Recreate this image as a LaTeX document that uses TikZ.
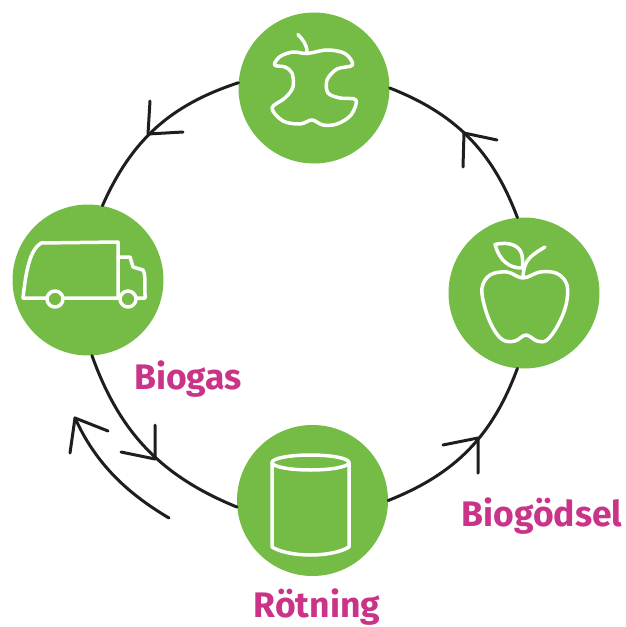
\documentclass[tikz,border=0pt]{standalone}
\usepackage{fontspec}
\setmainfont{Fira Sans}
\definecolor{leaf}{HTML}{74BC45}
\definecolor{plum}{HTML}{C93388}
\definecolor{ink}{HTML}{1E1E1E}
\tikzset{
  disc/.style={circle,fill=leaf,minimum size=151pt,inner sep=0pt},
  flow/.style={draw=ink,line width=3pt,line cap=round,line join=round},
  icon/.style={draw=white,line width=3.5pt,line cap=round,line join=round},
  tag/.style={text=plum,font=\fontsize{35.5}{36}\selectfont\bfseries,anchor=base,inner sep=0pt}
}
\begin{document}
\begin{tikzpicture}[x=1pt,y=-1pt]
\useasboundingbox (0,0) rectangle (626,627);
\node[disc] (top) at (314,88) {};
\node[disc] (right) at (524,293) {};
\node[disc] (bottom) at (312.5,500.5) {};
\node[disc] (left) at (88,280) {};
% connectors
\draw[flow] (right.95) to[bend right=24] (top.0);
\draw[flow] (top.176) to[bend right=24] (left.79);
\draw[flow] (left.273) to[bend right=24] (bottom.185);
\draw[flow] (bottom.0) to[bend right=24] (right.265);
% arrowheads on the ring
\coordinate (t1) at (464,133); \coordinate (t1a) at (463,167); \coordinate (t1b) at (497,140);
\coordinate (t2) at (148,134); \coordinate (t2a) at (150,101); \coordinate (t2b) at (183,132);
\coordinate (t3) at (155,459); \coordinate (t3a) at (155,425); \coordinate (t3b) at (121,452);
\coordinate (t4) at (478,438); \coordinate (t4a) at (443,445); \coordinate (t4b) at (478,473);
\draw[flow] (t1a) -- (t1) -- (t1b);
\draw[flow] (t2a) -- (t2) -- (t2b);
\draw[flow] (t3a) -- (t3) -- (t3b);
\draw[flow] (t4a) -- (t4) -- (t4b);
% return arrow
\coordinate (r0) at (169,518); \coordinate (r1) at (75,418);
\coordinate (r1a) at (70,453); \coordinate (r1b) at (108,431);
\draw[flow] (r0) .. controls (125,492) and (95,462) .. (r1);
\draw[flow] (r1a) -- (r1) -- (r1b);
% apple core
\draw[icon] plot[smooth cycle,tension=0.55] coordinates {(307,53.5)(327,50)(345,53.5)(352.5,65)(337,69)(327,80)(328,93)(340,98)(356,100)(351,115)(337,124)(323,125)(312,120)(300,124)(283,121)(272,108)(285,98)(293,87)(292,73)(285,67)(274.5,65)(280,56.5)(293,52)};
\draw[icon] (307,52) .. controls (307,44) and (302,39) .. (298,34.5);
% apple
\draw[icon] plot[smooth cycle,tension=0.6] coordinates {(523,278)(540,272)(557,273.5)(567,285)(566,305)(558,325)(547,340)(537,341)(526,335)(515,341)(503,340)(493,328)(485,308)(482,288)(490,275)(507,272)};
\draw[icon] (523,277) .. controls (524,260) and (530,256) .. (545,247);
\draw[icon] (495,244.5) .. controls (510,241) and (520,246) .. (522,255) .. controls (523,262) and (523,265) .. (522,268) .. controls (510,268) and (500,262) .. cycle;
% drum
\draw[icon] (310.5,462.5) ellipse (38.5pt and 7.5pt);
\draw[icon] (272,462.5) -- (272,547) .. controls (280,552) and (295,555) .. (310.5,555) .. controls (326,555) and (341,552) .. (349,547) -- (349,462.5);
% truck
\draw[icon] (23,298) .. controls (26,270) and (30,250) .. (41,243) -- (118,242) -- (118,298);
\draw[icon] (118,257) -- (130,257) -- (133,267) -- (143,270) .. controls (145,272) and (145,280) .. (145,298) -- (23,298);
\draw[icon,fill=leaf] (55,299) circle (8pt);
\draw[icon,fill=leaf] (128,299) circle (8pt);
% labels
\node[tag] (biogas) at (188,389) {Biogas};
\node[tag] (biogodsel) at (542,526) {Biogödsel};
\node[tag] (rotning) at (317,617) {Rötning};
\end{tikzpicture}
\end{document}
